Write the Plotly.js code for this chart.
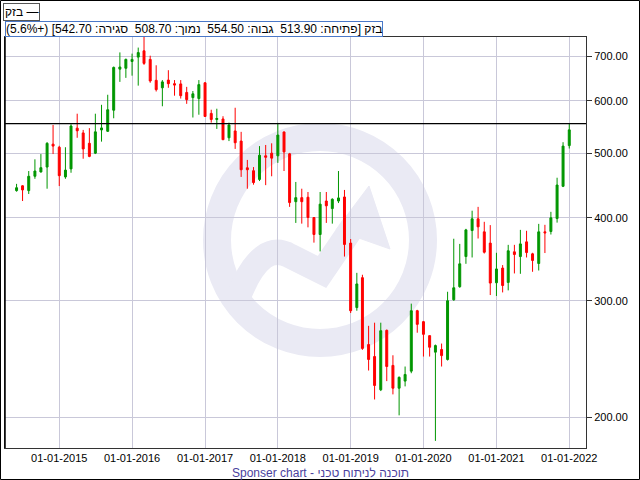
<!DOCTYPE html>
<html>
<head>
<meta charset="utf-8">
<script src="https://cdn.plot.ly/plotly-3.0.1.min.js"></script>
<style>html,body{margin:0;padding:0;background:#fff;}#chart{width:640px;height:480px;}</style>
</head>
<body>
<div id="chart"></div>
<script>
// Monthly candles, Bezeq (בזק)
const months = [
  '2014-06-01','2014-07-01','2014-08-01','2014-09-01','2014-10-01','2014-11-01','2014-12-01',
  '2015-01-01','2015-02-01','2015-03-01','2015-04-01','2015-05-01','2015-06-01','2015-07-01','2015-08-01','2015-09-01','2015-10-01','2015-11-01','2015-12-01',
  '2016-01-01','2016-02-01','2016-03-01','2016-04-01','2016-05-01','2016-06-01','2016-07-01','2016-08-01','2016-09-01','2016-10-01','2016-11-01','2016-12-01',
  '2017-01-01','2017-02-01','2017-03-01','2017-04-01','2017-05-01','2017-06-01','2017-07-01','2017-08-01','2017-09-01','2017-10-01','2017-11-01','2017-12-01',
  '2018-01-01','2018-02-01','2018-03-01','2018-04-01','2018-05-01','2018-06-01','2018-07-01','2018-08-01','2018-09-01','2018-10-01','2018-11-01','2018-12-01',
  '2019-01-01','2019-02-01','2019-03-01','2019-04-01','2019-05-01','2019-06-01','2019-07-01','2019-08-01','2019-09-01','2019-10-01','2019-11-01','2019-12-01',
  '2020-01-01','2020-02-01','2020-03-01','2020-04-01','2020-05-01','2020-06-01','2020-07-01','2020-08-01','2020-09-01','2020-10-01','2020-11-01','2020-12-01',
  '2021-01-01','2021-02-01','2021-03-01','2021-04-01','2021-05-01','2021-06-01','2021-07-01','2021-08-01','2021-09-01','2021-10-01','2021-11-01','2021-12-01',
  '2022-01-01'
];
const openP = [
  439.6,447,439.6,462,469,477,516.5,
  511,461,474,546,537,518,500.6,542.6,540,581,670,672,
  688,698.5,714,693,644.5,628,645,637,636.5,618,607,605,
  639,574.6,562.6,563.6,528,540.7,522,475.8,471,457,496,500.6,
  496,538.8,499.4,423,429,429.6,400.4,377.5,424,413,424,430,
  366.4,293,325,257.7,247.2,220.3,270.7,239.7,221.5,227,235,289.8,
  279,265.8,251,253.3,244.7,301,315,349.7,382.7,398.6,381,366.4,
  319.3,336,319.7,355.5,349.7,368,353,341.4,381,381.5,399,446.2,
  513.9
];
const highP = [
  450,448,470.5,490,499,520,552,
  513.5,511,553.5,574,542.6,546,574,592,613,676,710,695,
  707,722,752,702,679,645,667.5,645,645,630,621,645,
  640,582,584,569,556.5,586,539,489,477,513,515,518,
  556,539.4,501,453,442.5,437.5,401,437.5,437.5,428,470.5,440.6,
  371.6,330.5,328.3,275,278,278,271.5,248.3,230.7,238.8,297,290.7,
  279.7,266,257.7,258.6,309.5,372,365.4,385,410,415.5,394.5,390,
  354.3,339.5,364.2,364.2,383.6,382.4,354.3,391.7,390.4,408.4,459.7,520,
  554.5
];
const lowP = [
  438,424,434.5,458,468,442.5,499,
  446.6,458,467.7,528,491,493.6,499,521,539,565,641,650,
  655,632.7,680,639,620,589,628,611,605,594,566.5,572,
  568,556.5,544.5,524,522,508,461,442.5,448.7,454.4,448,462,
  484,470.5,415.5,393,392,387,367,356,393,392,421,349.7,
  287.5,289.8,253,235.5,213,219.3,227,216.8,201.6,222.9,233.3,268.5,
  247.2,247.2,184.5,238.8,243.8,300,313.8,341,348.6,372.3,353.4,306,
  305,308.8,311,329.8,329.4,348.6,331.7,333.2,354,377.5,393.4,445,
  508.7
];
const closeP = [
  444,440.6,462,470.5,476,518,513,
  463,472,550,541,508,495,539,546.4,582,674,675,693,
  693,709.6,683.5,643,624,641,637,634,611,602.7,615,635,
  568.5,562.6,564.6,524.5,552,519,472.6,472.6,452,497,493.6,492,
  533,502.8,421.7,429,423,400.4,377.5,419.4,417,426.6,428.6,364.7,
  289.8,318,254.3,244.7,223.6,270.4,238.8,221.5,230,232.3,289.8,276.4,
  267,255.3,256.8,248,300,313.8,341,383.6,398.6,387.7,355,319,
  335,316.3,356.8,352.2,365.4,354.6,345,381,379.7,400,448.2,513,
  542.7
];
const yTicks = [200, 300, 400, 500, 600, 700];
const seriesName = 'בזק';
const labelOpen = 'פתיחה', labelHigh = 'גבוה', labelLow = 'נמוך', labelClose = 'סגירה';
const footerText = 'Sponser chart - תוכנה לניתוח טכני';

const xRange = ['2014-04-04', '2022-03-26'];
const last = closeP.length - 1;

// plot area in pixels (for decoration placement)
const L = 5, R = 586, T = 37, B = 448;
const px = x => (x - L) / (R - L);
const py = y => (B - y) / (B - T);

const FONT = 'Liberation Sans, Arial, sans-serif';
const wm = '#eaeaf4';

const candles = {
  type: 'candlestick', x: months, open: openP, high: highP, low: lowP, close: closeP,
  increasing: {line: {color: 'rgb(0,150,0)', width: 1}, fillcolor: 'rgb(0,150,0)'},
  decreasing: {line: {color: 'rgb(255,0,0)', width: 1}, fillcolor: 'rgb(255,0,0)'},
  whiskerwidth: 0, hoverinfo: 'skip', showlegend: false
};
const hiLine = {
  type: 'scatter', mode: 'lines', x: xRange, y: [highP[last], highP[last]],
  line: {color: '#000', width: 1.2}, hoverinfo: 'skip', showlegend: false
};

const chg = ((closeP[last] - openP[last]) / openP[last] * 100).toFixed(1);
const info = '\u202B' + seriesName + ' [' + labelOpen + ': ' + openP[last].toFixed(2) + '\u00A0 ' +
  labelHigh + ': ' + highP[last].toFixed(2) + '\u00A0 ' + labelLow + ': ' + lowP[last].toFixed(2) + '\u00A0 ' +
  labelClose + ': ' + closeP[last].toFixed(2) + '] (' + (chg >= 0 ? '+' : '') + chg + '%)\u202C';

const layout = {
  width: 640, height: 480,
  margin: {l: L, r: 640 - R, t: T, b: 480 - B, pad: 0},
  paper_bgcolor: '#fff', plot_bgcolor: '#fff',
  showlegend: false, boxgap: 0.5,
  xaxis: {
    type: 'date', range: xRange, tick0: '2015-01-01', dtick: 'M12', tickformat: '%d-%m-%Y',
    showgrid: true, gridcolor: '#c9c8d9', gridwidth: 1, zeroline: false,
    showline: true, linecolor: '#333', linewidth: 1, mirror: true,
    ticks: '', 
    tickfont: {family: FONT, size: 11, color: '#000'},
    rangeslider: {visible: false}, fixedrange: true
  },
  yaxis: {
    type: 'log', range: [Math.log10(180), Math.log10(749)], side: 'right',
    tickvals: yTicks, tickformat: '.2f',
    showgrid: true, gridcolor: '#c9c8d9', gridwidth: 1, zeroline: false,
    showline: true, linecolor: '#333', linewidth: 1, mirror: true,
    ticks: 'outside', ticklen: 5, tickcolor: '#333',
    tickfont: {family: FONT, size: 11, color: '#000'}, fixedrange: true
  },
  shapes: [
    // watermark ring
    {type: 'circle', xref: 'paper', yref: 'paper', layer: 'below',
     x0: px(320 - 103), x1: px(320 + 103), y0: py(240 + 103), y1: py(240 - 103),
     line: {color: wm, width: 28}, fillcolor: 'rgba(0,0,0,0)'},
    // watermark wave
    {type: 'path', xref: 'paper', yref: 'paper', layer: 'below',
     path: 'M' + px(240) + ',' + py(293) + ' Q' + px(262) + ',' + py(240) + ' ' + px(290) + ',' + py(256) +
           ' L' + px(322) + ',' + py(272) + ' L' + px(356) + ',' + py(222),
     line: {color: wm, width: 25}},
    // watermark arrow head
    {type: 'path', xref: 'paper', yref: 'paper', layer: 'below',
     path: 'M' + px(369) + ',' + py(186) + ' L' + px(336) + ',' + py(230) + ' L' + px(390) + ',' + py(249) + ' Z',
     line: {color: wm, width: 1}, fillcolor: wm},
    // outer frame
    {type: 'rect', xref: 'paper', yref: 'paper', layer: 'above',
     x0: px(0.5), x1: px(639.5), y0: py(479.5), y1: py(0.5),
     line: {color: '#000', width: 1}, fillcolor: 'rgba(0,0,0,0)'},
    // left plot border
    {type: 'line', xref: 'paper', yref: 'paper', layer: 'above',
     x0: 0, x1: 0, y0: 0, y1: 1, line: {color: '#000', width: 1.5}}
  ],
  annotations: [
    {xref: 'paper', yref: 'paper', x: px(3), y: py(3), xanchor: 'left', yanchor: 'top',
     text: seriesName + ' \u2014', showarrow: false, font: {family: FONT, size: 12, color: '#000'},
     bgcolor: '#fff', bordercolor: '#555', borderwidth: 1, borderpad: 1},
    {xref: 'paper', yref: 'paper', x: 0, y: 1, xanchor: 'left', yanchor: 'bottom',
     text: info, showarrow: false, font: {family: FONT, size: 12, color: '#000'},
     bgcolor: '#fff', bordercolor: '#4a78c8', borderwidth: 1, borderpad: 0},
    {xref: 'paper', yref: 'paper', x: px(320), y: py(472.5), xanchor: 'center', yanchor: 'middle',
     text: footerText, showarrow: false, font: {family: FONT, size: 12, color: '#4b3f9e'}}
  ]
};

Plotly.newPlot('chart', [candles, hiLine], layout, {staticPlot: true, displayModeBar: false});
</script>
</body>
</html>
